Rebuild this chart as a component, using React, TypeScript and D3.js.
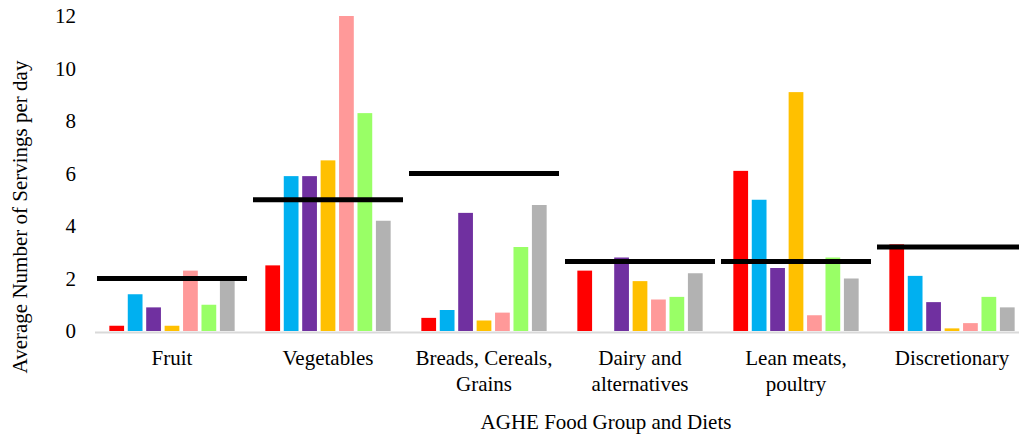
import React from "react";
import * as d3 from "d3";

const categories: string[][] = [
  ["Fruit"],
  ["Vegetables"],
  ["Breads, Cereals,", "Grains"],
  ["Dairy and", "alternatives"],
  ["Lean meats,", "poultry"],
  ["Discretionary"],
];

const seriesColors = ["#FF0000", "#00B0F0", "#7030A0", "#FFC000", "#FF9999", "#99FF66", "#B2B2B2"];

const seriesRed = [0.2, 2.5, 0.5, 2.3, 6.1, 3.3];
const seriesBlue = [1.4, 5.9, 0.8, 0, 5.0, 2.1];
const seriesPurple = [0.9, 5.9, 4.5, 2.8, 2.4, 1.1];
const seriesOrange = [0.2, 6.5, 0.4, 1.9, 9.1, 0.1];
const seriesPink = [2.3, 12, 0.7, 1.2, 0.6, 0.3];
const seriesGreen = [1.0, 8.3, 3.2, 1.3, 2.8, 1.3];
const seriesGray = [2.0, 4.2, 4.8, 2.2, 2.0, 0.9];

const recommended = [2, 5, 6, 2.65, 2.65, 3.2];

const yTicks = [0, 2, 4, 6, 8, 10, 12];

const allSeries = [seriesRed, seriesBlue, seriesPurple, seriesOrange, seriesPink, seriesGreen, seriesGray];

const FONT = "Liberation Serif, Times New Roman, Times, serif";
const textStyle: React.CSSProperties = { fontFamily: FONT, fontSize: 21 };

export default function App() {
  const width = 1019;
  const height = 436;
  const catKeys = categories.map((c) => c.join(" "));
  const x = d3.scaleBand<string>().domain(catKeys).range([94, 1030]).paddingInner(0).paddingOuter(0);
  const groupW = 129;
  const inner = d3
    .scaleBand<number>()
    .domain(d3.range(allSeries.length))
    .range([0, groupW])
    .paddingInner(0.2)
    .paddingOuter(0.1);
  const y = d3.scaleLinear().domain([0, 12]).range([331, 16]);
  const lineW = 150;

  return (
    <svg
      width={width}
      height={height}
      style={{ position: "absolute", left: 0, top: 0, display: "block", background: "#fff" }}
    >
      <rect x={0} y={0} width={width} height={height} fill="#fff" />
      {yTicks.map((t) => (
        <text key={t} x={76} y={y(t)} dy="0.35em" textAnchor="end" style={textStyle} fill="#000">
          {t}
        </text>
      ))}
      <line x1={95} x2={width} y1={y(0) + 1.5} y2={y(0) + 1.5} stroke="#D9D9D9" strokeWidth={2} />
      {catKeys.map((k, ci) => {
        const gx = (x(k) as number) + (x.bandwidth() - groupW) / 2;
        return allSeries.map((s, si) => {
          const v = s[ci];
          if (v <= 0) return null;
          return (
            <rect
              key={k + si}
              x={gx + (inner(si) as number)}
              y={y(v)}
              width={inner.bandwidth()}
              height={y(0) - y(v)}
              fill={seriesColors[si]}
            />
          );
        });
      })}
      {catKeys.map((k, ci) => {
        const cx = (x(k) as number) + x.bandwidth() / 2;
        return (
          <line
            key={"l" + k}
            x1={cx - lineW / 2}
            x2={cx + lineW / 2}
            y1={y(recommended[ci])}
            y2={y(recommended[ci])}
            stroke="#000"
            strokeWidth={5}
          />
        );
      })}
      {categories.map((lines, ci) => {
        const cx = (x(catKeys[ci]) as number) + x.bandwidth() / 2;
        return (
          <text key={"c" + ci} x={cx} y={365} textAnchor="middle" style={textStyle} fill="#000">
            {lines.map((ln, li) => (
              <tspan key={li} x={cx} dy={li === 0 ? 0 : 26}>
                {ln}
              </tspan>
            ))}
          </text>
        );
      })}
      <text x={606} y={429} textAnchor="middle" style={textStyle} fill="#000">
        AGHE Food Group and Diets
      </text>
      <text transform={`translate(27,217) rotate(-90)`} textAnchor="middle" style={textStyle} fill="#000">
        Average Number of Servings per day
      </text>
    </svg>
  );
}
